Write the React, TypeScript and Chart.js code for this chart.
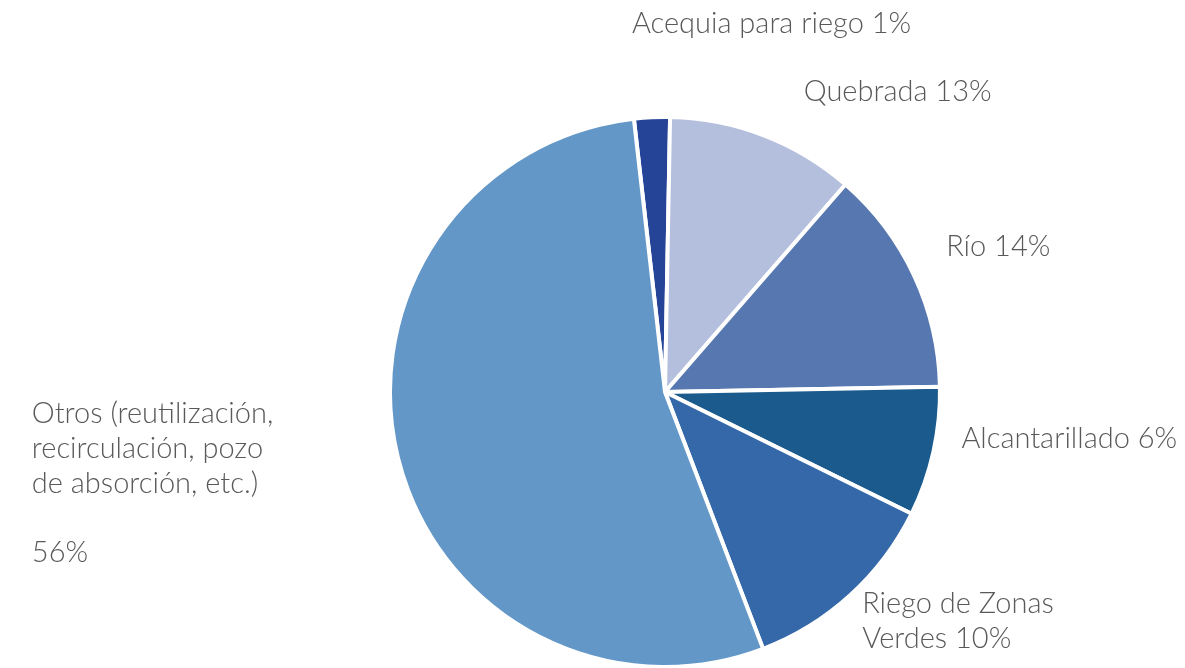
import React, { useEffect, useRef } from "react";
import { Chart, registerables } from "chart.js";

Chart.register(...registerables);

const categories: string[] = [
  "Acequia para riego",
  "Quebrada",
  "Río",
  "Alcantarillado",
  "Riego de Zonas Verdes",
  "Otros (reutilización, recirculación, pozo de absorción, etc.)",
];

// slice sizes
const sliceValues: number[] = [2.1, 11.1, 13.3, 7.6, 11.9, 54.0];

// label text as printed on the chart
const labelLines: string[][] = [
  ["Acequia para riego 1%"],
  ["Quebrada 13%"],
  ["Río 14%"],
  ["Alcantarillado 6%"],
  ["Riego de Zonas", "Verdes 10%"],
  ["Otros (reutilización,", "recirculación, pozo", "de absorción, etc.)", "", "56%"],
];

const sliceColors: string[] = [
  "#254397",
  "#B4BEDD",
  "#5677B0",
  "#1B5A8C",
  "#3568A8",
  "#6397C7",
];

// label nudges from each slice's outer mid-point
const labelNudges: [number, number][] = [
  [-20, -84],
  [40, -34],
  [32, -20],
  [28, -4],
  [12, 18],
  [-366, -34],
];

const FONT = '300 29px Lato, "Open Sans", sans-serif';
const LINE_H = 34.8;

const labelPlugin = {
  id: "outsideLabels",
  afterDatasetsDraw(chart: any) {
    const ctx = chart.ctx;
    const meta = chart.getDatasetMeta(0);
    ctx.save();
    ctx.font = FONT;
    ctx.fillStyle = "#595959";
    ctx.textAlign = "left";
    ctx.textBaseline = "alphabetic";
    meta.data.forEach((arc: any, i: number) => {
      const { x, y, startAngle, endAngle, outerRadius } = arc.getProps(
        ["x", "y", "startAngle", "endAngle", "outerRadius"],
        true
      );
      const mid = (startAngle + endAngle) / 2;
      const ax = x + Math.cos(mid) * outerRadius;
      const ay = y + Math.sin(mid) * outerRadius;
      const [dx, dy] = labelNudges[i];
      labelLines[i].forEach((line, j) => {
        if (line) ctx.fillText(line, ax + dx, ay + dy + j * LINE_H);
      });
    });
    ctx.restore();
  },
};

export default function App() {
  const canvasRef = useRef<HTMLCanvasElement | null>(null);

  useEffect(() => {
    if (!canvasRef.current) return;
    const chart = new Chart(canvasRef.current, {
      type: "pie",
      data: {
        labels: categories,
        datasets: [
          {
            data: sliceValues,
            backgroundColor: sliceColors,
            borderColor: "#FFFFFF",
            borderWidth: 4,
            radius: 275,
          } as any,
        ],
      },
      options: {
        responsive: false,
        animation: false,
        rotation: -6.5,
        layout: { padding: { left: 390, right: 245, top: 117, bottom: 1 } },
        plugins: {
          legend: { display: false },
          title: { display: false },
          tooltip: { enabled: false },
        },
        events: [],
      },
      plugins: [labelPlugin],
    });
    return () => chart.destroy();
  }, []);

  return (
    <div
      style={{
        position: "absolute",
        left: 0,
        top: 0,
        width: 1185,
        height: 668,
        background: "#FFFFFF",
      }}
    >
      <canvas ref={canvasRef} width={1185} height={668} />
    </div>
  );
}
